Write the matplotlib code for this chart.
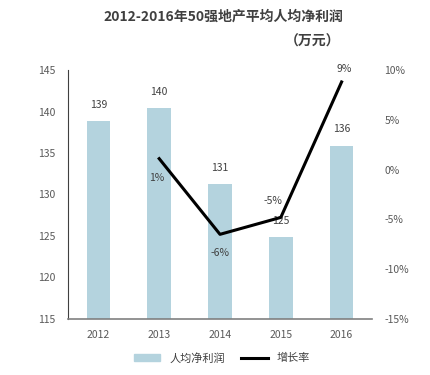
import matplotlib
matplotlib.use("Agg")
import matplotlib.pyplot as plt
from matplotlib.patches import Patch
from matplotlib.lines import Line2D

years = ["2012", "2013", "2014", "2015", "2016"]
profit = [138.9, 140.4, 131.3, 124.9, 135.9]
profit_labels = ["139", "140", "131", "125", "136"]
growth_years = ["2013", "2014", "2015", "2016"]
growth = [1.1, -6.5, -4.8, 8.8]
growth_labels = ["1%", "-6%", "-5%", "9%"]
left_ticks = [115, 120, 125, 130, 135, 140, 145]
right_ticks = [-15, -10, -5, 0, 5, 10]

plt.rcParams['font.family'] = ['Noto Sans CJK SC', 'DejaVu Sans']
tick_color = '#595959'

fig = plt.figure(figsize=(4.31, 3.75), dpi=100)
ax = fig.add_axes([68/431, 1-319/375, (372-68)/431, (319-70)/375])
x = list(range(len(years)))
ax.bar(x, profit, width=0.39, color='#b4d3de', zorder=2)
ax.set_ylim(115, 145)
ax.set_yticks(left_ticks)
ax.set_xlim(-0.5, 4.5)
ax.set_xticks(x)
ax.set_xticklabels(years)
for xi, v, lab in zip(x, profit, profit_labels):
    ax.annotate(lab, (xi, v), xytext=(0, 8), textcoords='offset points',
                ha='center', va='bottom', fontsize=7.5, color='#404040')
for s in ['top', 'right']:
    ax.spines[s].set_visible(False)
ax.spines['left'].set_color('#404040')
ax.spines['bottom'].set_color('#808080')
ax.spines['bottom'].set_linewidth(1.2)
ax.tick_params(axis='x', length=0, labelsize=7.5, colors=tick_color, pad=8)
ax.tick_params(axis='y', length=0, labelsize=7.5, colors=tick_color, pad=9)

ax2 = ax.twinx()
gx = [years.index(y) for y in growth_years]
ax2.plot(gx, growth, color='black', lw=2.2, zorder=3)
ax2.set_ylim(-15, 10)
ax2.set_yticks(right_ticks)
ax2.set_yticklabels([f"{t}%" for t in right_ticks])
ax2.tick_params(axis='y', length=0, labelsize=7.5, colors=tick_color, pad=9)
for s in ['top', 'right', 'left', 'bottom']:
    ax2.spines[s].set_visible(False)
offsets = [(-2, -10, 'top'), (0, -10, 'top'), (-6, 8, 'bottom'), (2, 6, 'bottom')]
for xi, v, lab, (dx, dy, va) in zip(gx, growth, growth_labels, offsets):
    ax2.annotate(lab, (xi, v), xytext=(dx, dy), textcoords='offset points',
                 ha='center', va=va, fontsize=7.5, color='#404040')

fig.text(223/431, 1-17/375, "2012-2016年50强地产平均人均净利润", ha='center', va='center',
         fontsize=10, fontweight='bold', color='#404040')
fig.text(340/431, 1-42/375, "（万元）", ha='right', va='center',
         fontsize=10, fontweight='bold', color='#404040')

handles = [Patch(color='#b4d3de'), Line2D([0], [0], color='black', lw=2.2)]
fig.legend(handles, ["人均净利润", "增长率"], loc='center', bbox_to_anchor=(222/431, 1-358/375),
           ncol=2, frameon=False, fontsize=8, handlelength=2.4, handleheight=0.6,
           columnspacing=1.5, labelcolor='#404040')

fig.savefig("out.png", dpi=100)
